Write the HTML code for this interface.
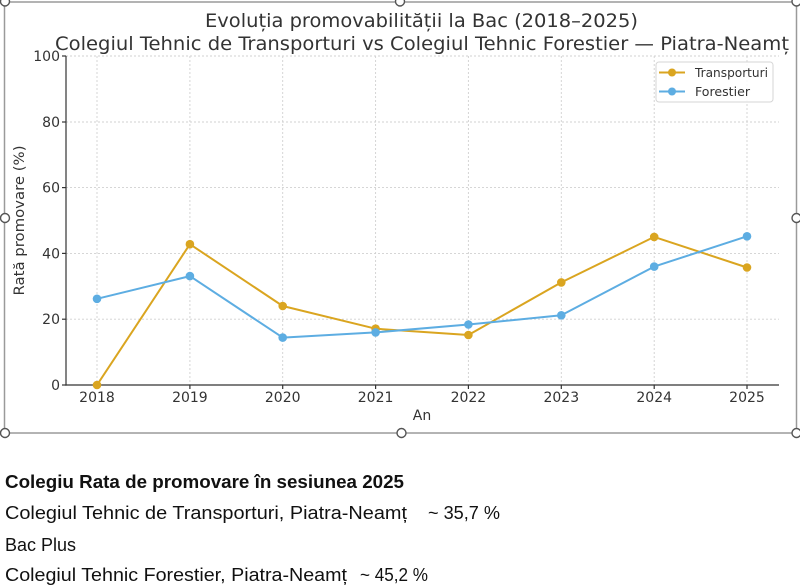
<!DOCTYPE html>
<html><head><meta charset="utf-8"><style>
html,body{margin:0;padding:0;background:#fff;}
svg{display:block;}
.dj{font-family:"DejaVu Sans","Liberation Sans",sans-serif;fill:#333;}
.lb{font-family:"Liberation Sans",sans-serif;fill:#111;}
</style></head><body>
<svg width="800" height="586" viewBox="0 0 800 586" xmlns="http://www.w3.org/2000/svg">
<rect x="0" y="0" width="800" height="586" fill="#fff"/>
<!-- gridlines -->
<g stroke="#d0d0d0" stroke-width="0.9" stroke-dasharray="2,2">
<line x1="66" y1="56" x2="779" y2="56"/>
<line x1="66" y1="122" x2="779" y2="122"/>
<line x1="66" y1="187.6" x2="779" y2="187.6"/>
<line x1="66" y1="253.4" x2="779" y2="253.4"/>
<line x1="66" y1="319.2" x2="779" y2="319.2"/>
<line x1="97" y1="56" x2="97" y2="385"/>
<line x1="189.9" y1="56" x2="189.9" y2="385"/>
<line x1="282.7" y1="56" x2="282.7" y2="385"/>
<line x1="375.6" y1="56" x2="375.6" y2="385"/>
<line x1="468.4" y1="56" x2="468.4" y2="385"/>
<line x1="561.3" y1="56" x2="561.3" y2="385"/>
<line x1="654.2" y1="56" x2="654.2" y2="385"/>
<line x1="747" y1="56" x2="747" y2="385"/>
</g>
<!-- spines -->
<g stroke="#333" stroke-width="1.2">
<line x1="66" y1="56" x2="66" y2="385.6"/>
<line x1="65.4" y1="385" x2="779" y2="385"/>
<!-- ticks -->
<line x1="62" y1="56" x2="66" y2="56"/>
<line x1="62" y1="122" x2="66" y2="122"/>
<line x1="62" y1="187.6" x2="66" y2="187.6"/>
<line x1="62" y1="253.4" x2="66" y2="253.4"/>
<line x1="62" y1="319.2" x2="66" y2="319.2"/>
<line x1="62" y1="385" x2="66" y2="385"/>
<line x1="97" y1="385" x2="97" y2="389"/>
<line x1="189.9" y1="385" x2="189.9" y2="389"/>
<line x1="282.7" y1="385" x2="282.7" y2="389"/>
<line x1="375.6" y1="385" x2="375.6" y2="389"/>
<line x1="468.4" y1="385" x2="468.4" y2="389"/>
<line x1="561.3" y1="385" x2="561.3" y2="389"/>
<line x1="654.2" y1="385" x2="654.2" y2="389"/>
<line x1="747" y1="385" x2="747" y2="389"/>
</g>
<!-- y tick labels -->
<g class="dj" font-size="14" text-anchor="end">
<text x="60" y="61">100</text>
<text x="60" y="127">80</text>
<text x="60" y="192.6">60</text>
<text x="60" y="258.4">40</text>
<text x="60" y="324.2">20</text>
<text x="60" y="390">0</text>
</g>
<!-- x tick labels -->
<g class="dj" font-size="14" text-anchor="middle">
<text x="97" y="402">2018</text>
<text x="189.9" y="402">2019</text>
<text x="282.7" y="402">2020</text>
<text x="375.6" y="402">2021</text>
<text x="468.4" y="402">2022</text>
<text x="561.3" y="402">2023</text>
<text x="654.2" y="402">2024</text>
<text x="747" y="402">2025</text>
</g>
<text class="dj" font-size="14" x="422" y="420" text-anchor="middle">An</text>
<text class="dj" font-size="14" transform="translate(24,220.5) rotate(-90)" text-anchor="middle" textLength="150" lengthAdjust="spacingAndGlyphs">Rată promovare (%)</text>
<!-- titles -->
<text class="dj" font-size="19" x="205" y="27" textLength="433" lengthAdjust="spacingAndGlyphs">Evoluția promovabilității la Bac (2018–2025)</text>
<text class="dj" font-size="19" x="55" y="50" textLength="734" lengthAdjust="spacingAndGlyphs">Colegiul Tehnic de Transporturi vs Colegiul Tehnic Forestier — Piatra-Neamț</text>
<!-- Transporturi -->
<g stroke="#DAA520" fill="#DAA520">
<polyline fill="none" stroke-width="2" stroke-linejoin="round" points="97,385 189.9,244.2 282.7,306 375.6,328.7 468.4,335 561.3,282.4 654.2,236.9 747,267.5"/>
<g stroke="none">
<circle cx="97" cy="385" r="4.3"/>
<circle cx="189.9" cy="244.2" r="4.3"/>
<circle cx="282.7" cy="306" r="4.3"/>
<circle cx="375.6" cy="328.7" r="4.3"/>
<circle cx="468.4" cy="335" r="4.3"/>
<circle cx="561.3" cy="282.4" r="4.3"/>
<circle cx="654.2" cy="236.9" r="4.3"/>
<circle cx="747" cy="267.5" r="4.3"/>
</g></g>
<!-- Forestier -->
<g stroke="#5DADE2" fill="#5DADE2">
<polyline fill="none" stroke-width="2" stroke-linejoin="round" points="97,298.8 189.9,276.1 282.7,337.6 375.6,332.4 468.4,324.5 561.3,315.3 654.2,266.6 747,236.3"/>
<g stroke="none">
<circle cx="97" cy="298.8" r="4.3"/>
<circle cx="189.9" cy="276.1" r="4.3"/>
<circle cx="282.7" cy="337.6" r="4.3"/>
<circle cx="375.6" cy="332.4" r="4.3"/>
<circle cx="468.4" cy="324.5" r="4.3"/>
<circle cx="561.3" cy="315.3" r="4.3"/>
<circle cx="654.2" cy="266.6" r="4.3"/>
<circle cx="747" cy="236.3" r="4.3"/>
</g></g>
<!-- legend -->
<rect x="656" y="62" width="117" height="40" rx="3" fill="#fff" fill-opacity="0.85" stroke="#d6d6d6" stroke-width="1"/>
<line x1="659" y1="72.5" x2="685" y2="72.5" stroke="#DAA520" stroke-width="2"/>
<circle cx="672" cy="72.5" r="4" fill="#DAA520"/>
<line x1="659" y1="91.5" x2="685" y2="91.5" stroke="#5DADE2" stroke-width="2"/>
<circle cx="672" cy="91.5" r="4" fill="#5DADE2"/>
<text class="dj" font-size="12.5" x="695" y="77" textLength="73" lengthAdjust="spacingAndGlyphs">Transporturi</text>
<text class="dj" font-size="12.5" x="695" y="96" textLength="55" lengthAdjust="spacingAndGlyphs">Forestier</text>
<!-- selection frame -->
<rect x="4.5" y="2" width="792" height="431" fill="none" stroke="#9a9a9a" stroke-width="1.5"/>
<g fill="#fff" stroke="#555" stroke-width="1.4">
<circle cx="5" cy="1.5" r="4.5"/>
<circle cx="400" cy="1.5" r="4.5"/>
<circle cx="796.5" cy="1.5" r="4.5"/>
<circle cx="5" cy="218" r="4.5"/>
<circle cx="796.5" cy="218" r="4.5"/>
<circle cx="5" cy="433" r="4.5"/>
<circle cx="401.5" cy="433" r="4.5"/>
<circle cx="796.5" cy="433" r="4.5"/>
</g>
<!-- bottom text -->
<text class="lb" font-size="18" font-weight="bold" x="5" y="488" textLength="399" lengthAdjust="spacingAndGlyphs">Colegiu Rata de promovare în sesiunea 2025</text>
<text class="lb" font-size="18" x="5" y="519" textLength="402" lengthAdjust="spacingAndGlyphs">Colegiul Tehnic de Transporturi, Piatra-Neamț</text>
<text class="lb" font-size="18" x="428" y="519" textLength="72" lengthAdjust="spacingAndGlyphs">~ 35,7 %</text>
<text class="lb" font-size="18" x="5" y="551" textLength="71" lengthAdjust="spacingAndGlyphs">Bac Plus</text>
<text class="lb" font-size="18" x="5" y="581" textLength="342" lengthAdjust="spacingAndGlyphs">Colegiul Tehnic Forestier, Piatra-Neamț</text>
<text class="lb" font-size="18" x="360" y="581" textLength="68" lengthAdjust="spacingAndGlyphs">~ 45,2 %</text>
</svg>
</body></html>
